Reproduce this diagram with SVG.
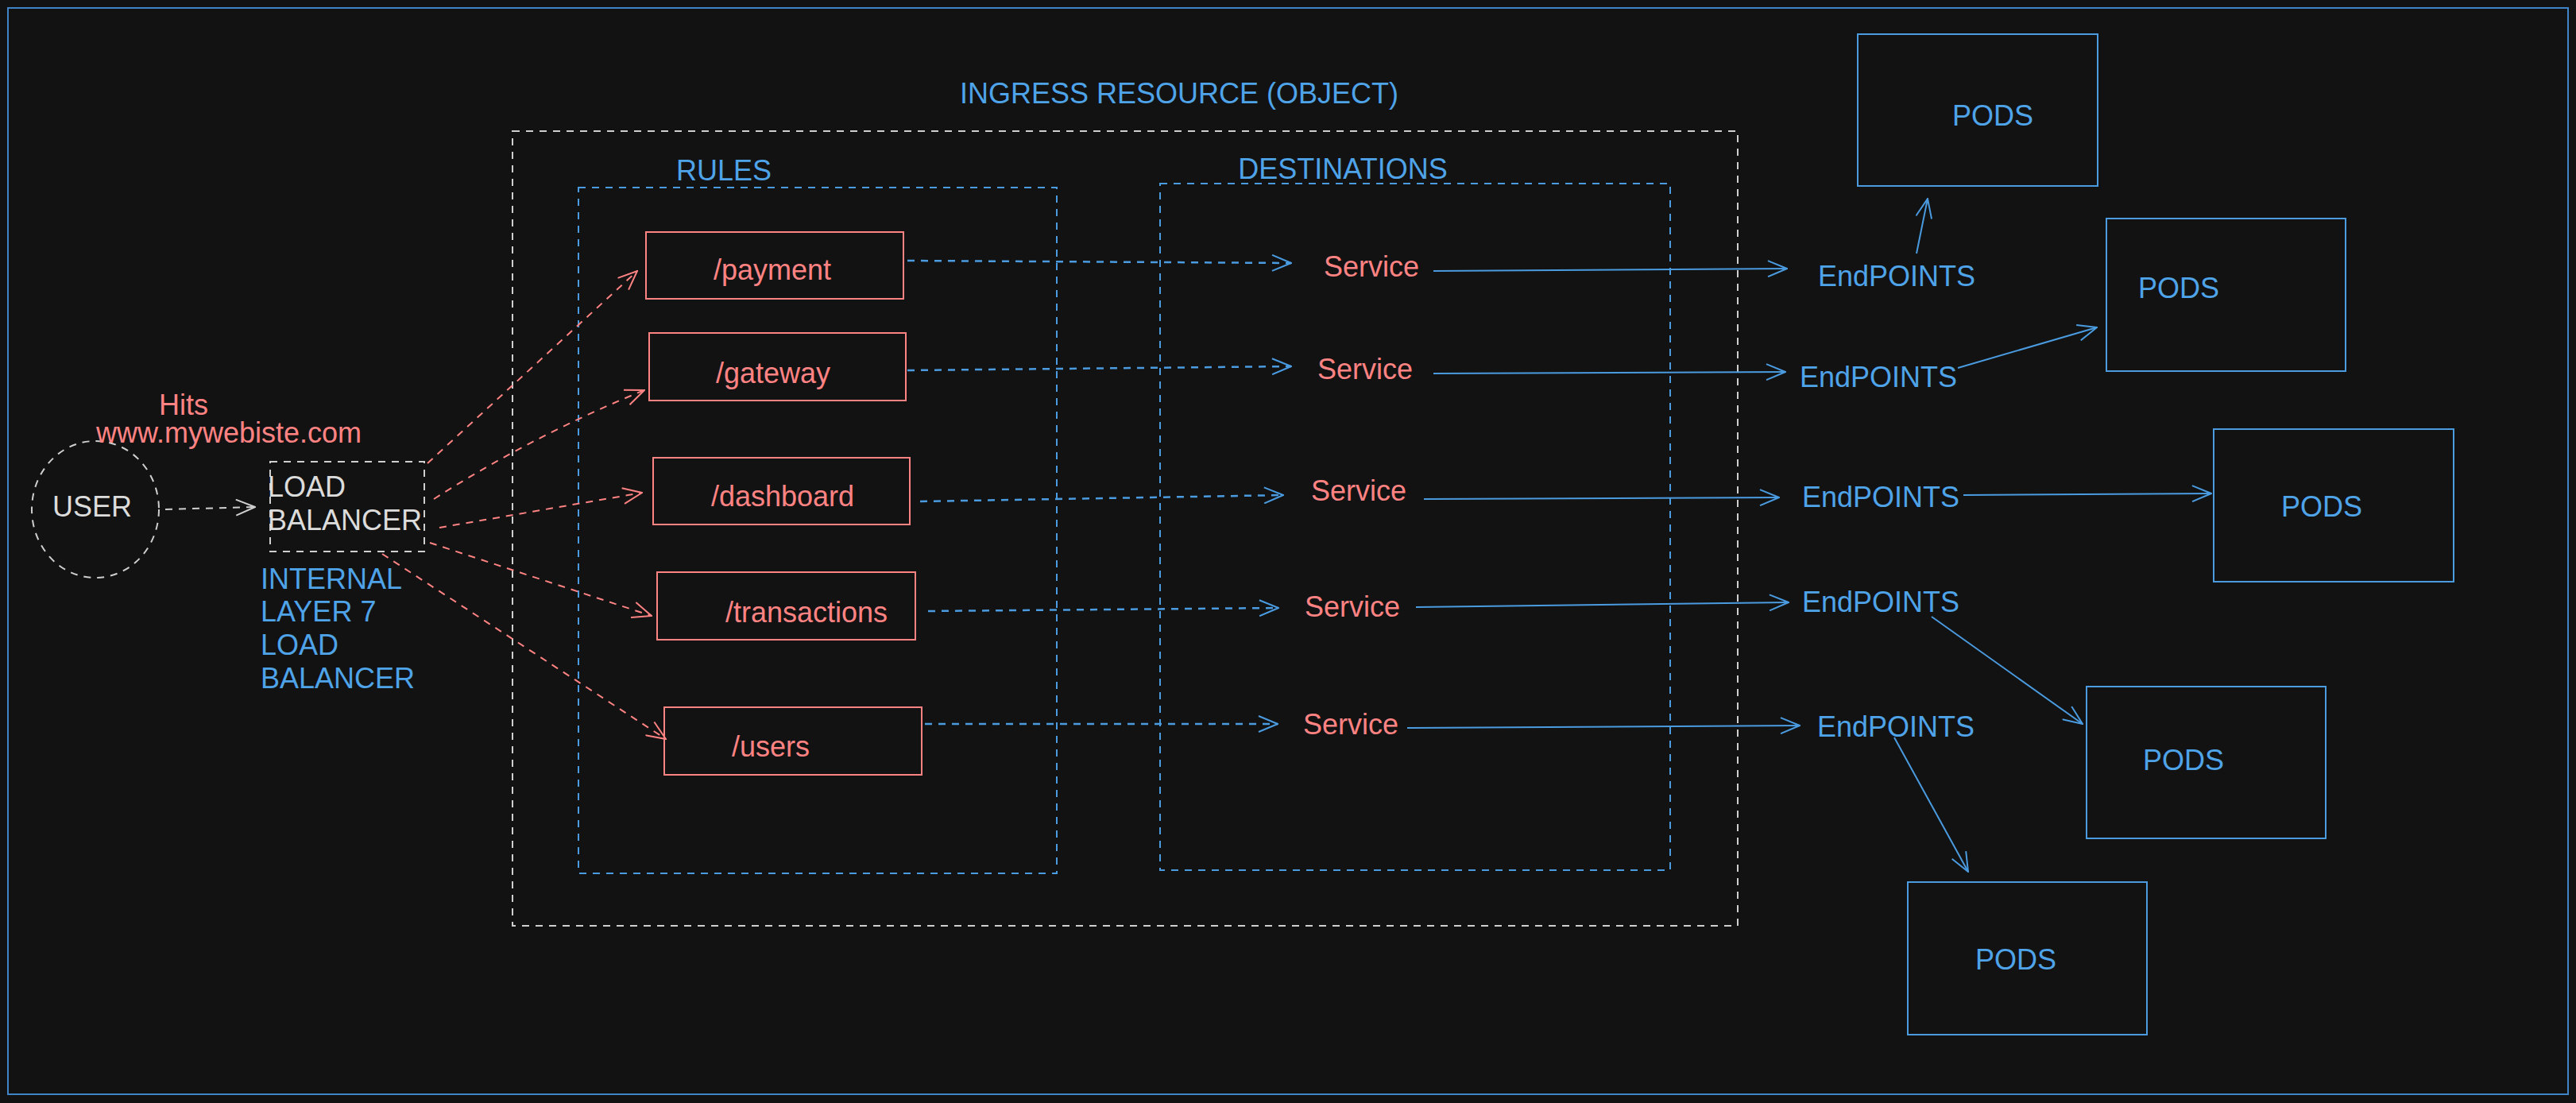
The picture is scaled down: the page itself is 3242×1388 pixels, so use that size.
<svg xmlns="http://www.w3.org/2000/svg" width="3242" height="1388" viewBox="0 0 3242 1388">
<defs>
<style>
text{font-family:"Liberation Sans",Arial,sans-serif;font-size:36px}
.red{fill:#ff8383}
.blue{fill:#4fa3e8}
.gray{fill:#dcdcdc}
.mid{text-anchor:middle}
.rbox{fill:none;stroke:#ff8383;stroke-width:2}
.bbox{fill:none;stroke:#4a9be0;stroke-width:2}
.gdash{fill:none;stroke:#cfcfcf;stroke-width:2;stroke-dasharray:9 8}
.bdash{fill:none;stroke:#4a9be0;stroke-width:2;stroke-dasharray:9 8}
.ra{fill:none;stroke:#ff8383;stroke-width:2;stroke-dasharray:9 8;marker-end:url(#mr)}
.ba{fill:none;stroke:#4a9be0;stroke-width:2.5;stroke-dasharray:9 8;marker-end:url(#mb)}
.bs{fill:none;stroke:#4a9be0;stroke-width:2;marker-end:url(#mb)}
.ga{fill:none;stroke:#cfcfcf;stroke-width:2;stroke-dasharray:9 8;marker-end:url(#mg)}
</style>
<marker id="mr" viewBox="0 0 26 22" refX="25" refY="11" markerWidth="26" markerHeight="22" markerUnits="userSpaceOnUse" orient="auto"><path d="M1,1 L25,11 L1,21" fill="none" stroke="#ff8383" stroke-width="2"/></marker>
<marker id="mb" viewBox="0 0 26 22" refX="25" refY="11" markerWidth="26" markerHeight="22" markerUnits="userSpaceOnUse" orient="auto"><path d="M1,1 L25,11 L1,21" fill="none" stroke="#4a9be0" stroke-width="2"/></marker>
<marker id="mg" viewBox="0 0 26 22" refX="25" refY="11" markerWidth="26" markerHeight="22" markerUnits="userSpaceOnUse" orient="auto"><path d="M1,1 L25,11 L1,21" fill="none" stroke="#cfcfcf" stroke-width="2"/></marker>
</defs>
<rect x="0" y="0" width="3242" height="1388" fill="#121212"/>
<rect id="frame" x="10" y="10" width="3222" height="1367" fill="none" stroke="#4084c8" stroke-width="2"/>

<g id="user">
<ellipse cx="120" cy="641" rx="80" ry="86" class="gdash"/>
<text x="116" y="650" class="gray mid">USER</text>
</g>
<g id="hits-label">
<text x="231" y="522" class="red mid">Hits</text>
<text x="288" y="557" class="red mid">www.mywebiste.com</text>
</g>
<g id="load-balancer">
<rect x="340" y="581" width="194" height="113" class="gdash"/>
<text x="337" y="625" class="gray">LOAD</text>
<text x="337" y="667" class="gray">BALANCER</text>
</g>
<g id="lb-note">
<text x="328" y="741" class="blue">INTERNAL</text>
<text x="328" y="782" class="blue">LAYER 7</text>
<text x="328" y="824" class="blue">LOAD</text>
<text x="328" y="866" class="blue">BALANCER</text>
</g>

<g id="ingress">
<rect x="645" y="165" width="1542" height="1000" class="gdash"/>
<text x="1484" y="130" class="blue mid">INGRESS RESOURCE (OBJECT)</text>
</g>
<g id="rules">
<rect x="728" y="236" width="602" height="863" class="bdash"/>
<text x="911" y="227" class="blue mid">RULES</text>
</g>
<g id="destinations">
<rect x="1460" y="231" width="642" height="864" class="bdash"/>
<text x="1690" y="225" class="blue mid">DESTINATIONS</text>
</g>

<g id="rule-payment"><rect x="813" y="292" width="324" height="84" class="rbox"/><text x="972" y="352" class="red mid">/payment</text></g>
<g id="rule-gateway"><rect x="817" y="419" width="323" height="85" class="rbox"/><text x="973" y="482" class="red mid">/gateway</text></g>
<g id="rule-dashboard"><rect x="822" y="576" width="323" height="84" class="rbox"/><text x="985" y="637" class="red mid">/dashboard</text></g>
<g id="rule-transactions"><rect x="827" y="720" width="325" height="85" class="rbox"/><text x="1015" y="783" class="red mid">/transactions</text></g>
<g id="rule-users"><rect x="836" y="890" width="324" height="85" class="rbox"/><text x="970" y="952" class="red mid">/users</text></g>

<g id="service-1"><text x="1726" y="348" class="red mid">Service</text></g>
<g id="service-2"><text x="1718" y="477" class="red mid">Service</text></g>
<g id="service-3"><text x="1710" y="630" class="red mid">Service</text></g>
<g id="service-4"><text x="1702" y="776" class="red mid">Service</text></g>
<g id="service-5"><text x="1700" y="924" class="red mid">Service</text></g>

<g id="endpoints-1"><text x="2387" y="360" class="blue mid">EndPOINTS</text></g>
<g id="endpoints-2"><text x="2364" y="487" class="blue mid">EndPOINTS</text></g>
<g id="endpoints-3"><text x="2367" y="638" class="blue mid">EndPOINTS</text></g>
<g id="endpoints-4"><text x="2367" y="770" class="blue mid">EndPOINTS</text></g>
<g id="endpoints-5"><text x="2386" y="927" class="blue mid">EndPOINTS</text></g>

<g id="pods-1"><rect x="2338" y="43" width="302" height="191" class="bbox"/><text x="2508" y="158" class="blue mid">PODS</text></g>
<g id="pods-2"><rect x="2651" y="275" width="301" height="192" class="bbox"/><text x="2742" y="375" class="blue mid">PODS</text></g>
<g id="pods-3"><rect x="2786" y="540" width="302" height="192" class="bbox"/><text x="2922" y="650" class="blue mid">PODS</text></g>
<g id="pods-4"><rect x="2626" y="864" width="301" height="191" class="bbox"/><text x="2748" y="969" class="blue mid">PODS</text></g>
<g id="pods-5"><rect x="2401" y="1110" width="301" height="192" class="bbox"/><text x="2537" y="1220" class="blue mid">PODS</text></g>

<g id="connectors">
<path d="M208,641 L321,638" class="ga"/>
<path d="M538,583 L802,341" class="ra"/>
<path d="M546,628 Q673,547 811,491" class="ra"/>
<path d="M553,664 L808,620" class="ra"/>
<path d="M541,683 L820,775" class="ra"/>
<path d="M481,697 L838,930" class="ra"/>

<path d="M1142,328 L1625,331" class="ba"/>
<path d="M1142,466 L1625,461" class="ba"/>
<path d="M1158,631 L1615,623" class="ba"/>
<path d="M1168,769 L1609,765" class="ba"/>
<path d="M1164,911 L1608,911" class="ba"/>

<path d="M1804,341 L2249,338" class="bs"/>
<path d="M1804,470 L2247,468" class="bs"/>
<path d="M1792,628 L2239,626" class="bs"/>
<path d="M1782,764 L2251,758" class="bs"/>
<path d="M1771,916 L2265,913" class="bs"/>

<path d="M2412,319 L2426,250" class="bs"/>
<path d="M2464,463 L2639,412" class="bs"/>
<path d="M2471,623 L2783,621" class="bs"/>
<path d="M2431,776 L2621,911" class="bs"/>
<path d="M2384,928 L2477,1097" class="bs"/>
</g>
</svg>
